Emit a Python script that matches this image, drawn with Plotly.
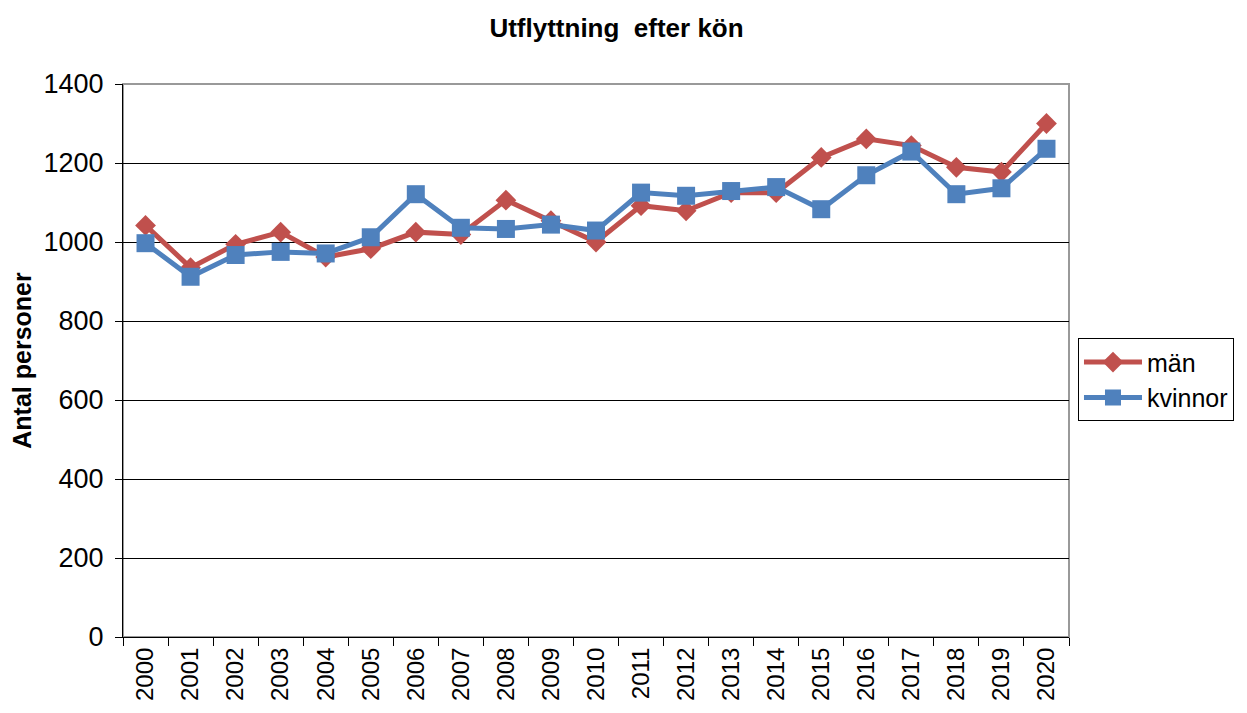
import plotly.graph_objects as go

years = [str(y) for y in range(2000, 2021)]
man = [1042, 935, 994, 1025, 962, 983, 1025, 1019, 1106, 1054, 1000,
       1092, 1079, 1125, 1125, 1214, 1261, 1244, 1189, 1177, 1300]
kvinnor = [997, 912, 967, 975, 971, 1012, 1121, 1036, 1033, 1044, 1029,
           1125, 1117, 1129, 1139, 1083, 1169, 1229, 1121, 1136, 1236]

font = "Liberation Sans, Arial, sans-serif"

fig = go.Figure()
fig.add_trace(go.Scatter(x=years, y=man, name="män", mode="lines+markers",
                         line=dict(color="#C0504D", width=5),
                         marker=dict(symbol="diamond", size=16, color="#C0504D")))
fig.add_trace(go.Scatter(x=years, y=kvinnor, name="kvinnor", mode="lines+markers",
                         line=dict(color="#4F81BD", width=5),
                         marker=dict(symbol="square", size=18, color="#4F81BD")))

fig.update_layout(
    width=1247, height=713,
    margin=dict(l=115, r=186, t=76, b=84),
    paper_bgcolor="white", plot_bgcolor="white",
    font=dict(family=font, color="black"),
    title=dict(text="<b>Utflyttning  efter kön</b>", x=0.488, xanchor="center",
               xref="container", y=1 - 20/713, yanchor="middle",
               font=dict(size=26, family=font)),
    legend=dict(x=1.0095, y=0.465, xanchor="left", yanchor="middle",
                bordercolor="black", borderwidth=1, font=dict(size=25, family=font),
                tracegroupgap=0, itemwidth=58),
    shapes=[dict(type="rect", xref="paper", yref="paper", x0=0, x1=1, y0=0, y1=1,
                 line=dict(color="#999999", width=2), layer="below")],
)
fig.update_xaxes(type="category", tickangle=-90, tickfont=dict(size=24),
                 showline=True, linecolor="black", linewidth=1,
                 ticks="outside", ticklen=8, tickcolor="black", tickson="boundaries",
                 showgrid=False, range=[-0.5, 20.5])
fig.update_yaxes(range=[0, 1400], dtick=200, tickfont=dict(size=27),
                 showline=True, linecolor="black", linewidth=1,
                 ticks="outside", ticklen=7, tickcolor="black", ticklabelstandoff=6,
                 showgrid=True, gridcolor="black", gridwidth=1, zeroline=False,
                 title=dict(text="<b>Antal personer</b>", font=dict(size=25), standoff=4))

fig.write_html("out.html")
